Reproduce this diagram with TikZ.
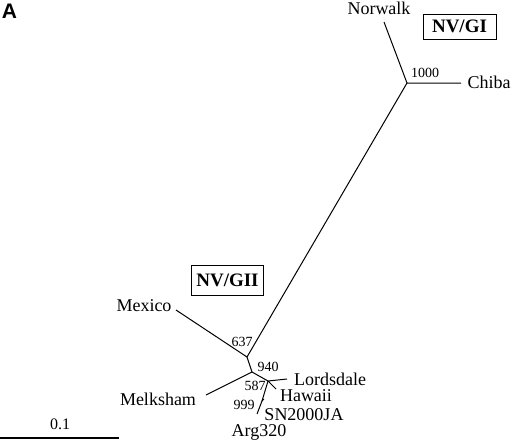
\documentclass[tikz,border=0pt]{standalone}
\usepackage{fontspec}
\setmainfont{Liberation Serif}
\newfontfamily\labelsans{Liberation Sans}
\begin{document}
\begin{tikzpicture}[x=1pt,y=-1pt,
  branch/.style={line width=1pt},
  leaf/.style={inner sep=0pt,font=\fontsize{18}{18}\selectfont},
  boot/.style={inner sep=0pt,font=\fontsize{14}{14}\selectfont},
  clade/.style={draw,line width=1pt,inner sep=0pt,font=\bfseries\fontsize{19}{19}\selectfont}]
\useasboundingbox (0,0) rectangle (512,445);
% internal vertices
\coordinate (GI) at (407,83);
\coordinate (A) at (247,357);
\coordinate (B) at (252,372);
\coordinate (C) at (268,381);
\coordinate (D) at (262,401);
% leaf ends
\coordinate (Nw) at (384,22);
\coordinate (Ch) at (461,83);
\coordinate (Mx) at (176,310);
\coordinate (Mk) at (206,395);
\coordinate (Ld) at (287,379);
\coordinate (Hw) at (276,389);
\coordinate (Ar) at (257,414);
\coordinate (SN) at (264,399);
% branches
\draw[branch] (Nw) -- (GI) -- (Ch);
\draw[branch] (GI) -- (A);
\draw[branch] (Mx) -- (A) -- (B);
\draw[branch] (Mk) -- (B) -- (C);
\draw[branch] (Ld) -- (C) -- (Hw);
\draw[branch] (C) -- (D) -- (Ar);
\draw[branch] (D) -- (SN);
% leaf labels
\node[leaf] (nNw) at (379,8) {Norwalk};
\node[leaf] (nCh) at (489,82) {Chiba};
\node[leaf] (nMx) at (144,306) {Mexico};
\node[leaf] (nMk) at (158,399) {Melksham};
\node[leaf] (nLd) at (330,379) {Lordsdale};
\node[leaf] (nHw) at (306,396) {Hawaii};
\node[leaf] (nSN) at (304,415) {SN2000JA};
\node[leaf] (nAr) at (259,432) {Arg320};
% bootstrap values
\node[boot] (b1000) at (425,73) {1000};
\node[boot] (b637) at (242,342) {637};
\node[boot] (b940) at (268,367) {940};
\node[boot] (b587) at (255,386) {587};
\node[boot] (b999) at (244,405) {999};
% clade boxes
\node[clade,minimum width=73pt,minimum height=25pt] (gI) at (459.5,26.5) {NV/GI};
\node[clade,minimum width=72pt,minimum height=30pt] (gII) at (227.5,280) {NV/GII};
% panel letter
\node[inner sep=0pt,font=\labelsans\bfseries\fontsize{21}{21}\selectfont] (pA) at (9.5,11.5) {A};
% scale bar
\coordinate (s0) at (0,438);
\coordinate (s1) at (119,438);
\draw[line width=1.2pt] (s0) -- (s1);
\node[inner sep=0pt,font=\fontsize{16}{16}\selectfont] (sl) at (60,424) {0.1};
\end{tikzpicture}
\end{document}
